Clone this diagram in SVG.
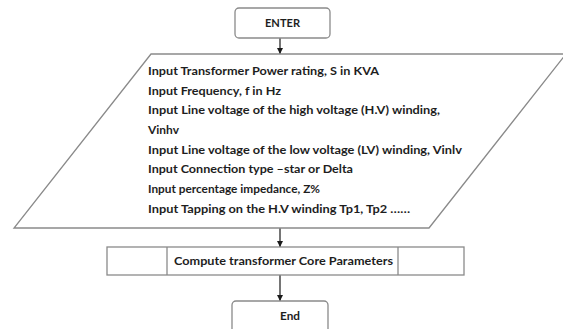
<svg xmlns="http://www.w3.org/2000/svg" width="563" height="329" viewBox="0 0 563 329">
  <style>
    .shape { fill: #ffffff; stroke: #8a8a8a; stroke-width: 1.3; }
    .edge { stroke: #1a1a1a; stroke-width: 1.2; fill: none; }
    .lbl { font-family: "Lato", "Liberation Sans", sans-serif; font-weight: bold; font-size: 11.5px; fill: #1e1e1e; }
  </style>
  <defs>
    <marker id="arrow" viewBox="0 0 10 10" refX="10" refY="5" markerWidth="6" markerHeight="6" markerUnits="userSpaceOnUse" orient="auto">
      <path d="M0,0 L10,5 L0,10 Z" fill="#1a1a1a"/>
    </marker>
  </defs>
  <rect width="563" height="329" fill="#ffffff"/>

  <g id="connectors">
    <line class="edge" x1="280" y1="38" x2="280" y2="54" marker-end="url(#arrow)"/>
    <line class="edge" x1="280" y1="228" x2="280" y2="247" marker-end="url(#arrow)"/>
    <line class="edge" x1="280" y1="275" x2="280" y2="301" marker-end="url(#arrow)"/>
  </g>

  <g id="enter">
    <rect class="shape" x="235" y="8" width="95" height="30" rx="4"/>
    <text class="lbl" x="282.5" y="27" text-anchor="middle" textLength="35" lengthAdjust="spacingAndGlyphs">ENTER</text>
  </g>

  <g id="inputs">
    <polygon class="shape" points="151,54 566,54 429,228 14,228"/>
    <text class="lbl" x="148" y="75" textLength="231" lengthAdjust="spacingAndGlyphs">Input Transformer Power rating, S in KVA</text>
    <text class="lbl" x="148" y="94.5" textLength="133" lengthAdjust="spacingAndGlyphs">Input Frequency, f in Hz</text>
    <text class="lbl" x="148" y="114" textLength="292" lengthAdjust="spacingAndGlyphs">Input Line voltage of the high voltage (H.V) winding,</text>
    <text class="lbl" x="148" y="134" textLength="31" lengthAdjust="spacingAndGlyphs">Vinhv</text>
    <text class="lbl" x="148" y="153.5" textLength="314" lengthAdjust="spacingAndGlyphs">Input Line voltage of the low voltage (LV) winding, Vinlv</text>
    <text class="lbl" x="148" y="173" textLength="205" lengthAdjust="spacingAndGlyphs">Input Connection type –star or Delta</text>
    <text class="lbl" x="148" y="193" textLength="172" lengthAdjust="spacingAndGlyphs">Input percentage impedance, Z%</text>
    <text class="lbl" x="148" y="212.5" textLength="262" lengthAdjust="spacingAndGlyphs">Input Tapping on the H.V winding Tp1, Tp2 ……</text>
  </g>

  <g id="compute">
    <rect class="shape" x="107" y="247" width="357" height="28"/>
    <line class="shape" x1="167" y1="247" x2="167" y2="275"/>
    <line class="shape" x1="398" y1="247" x2="398" y2="275"/>
    <text class="lbl" x="174" y="265" textLength="219" lengthAdjust="spacingAndGlyphs">Compute transformer Core Parameters</text>
  </g>

  <g id="end">
    <rect class="shape" x="232" y="301" width="96" height="40" rx="4"/>
    <text class="lbl" x="290" y="320" text-anchor="middle" textLength="20" lengthAdjust="spacingAndGlyphs">End</text>
  </g>
</svg>
